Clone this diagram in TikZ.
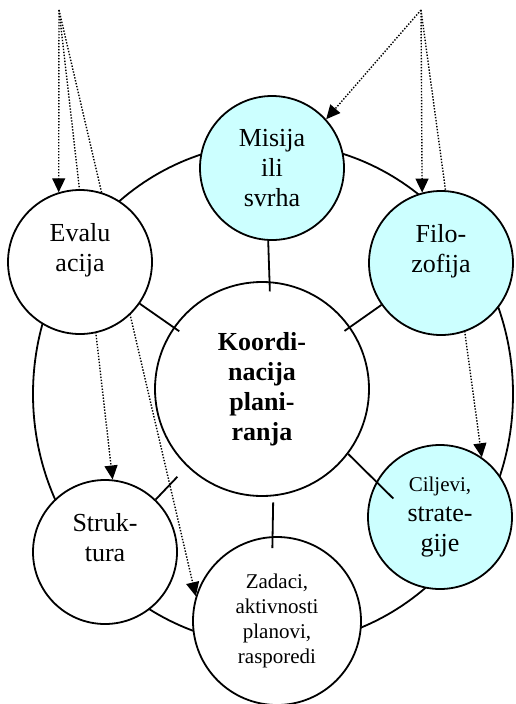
\documentclass[tikz,border=0pt]{standalone}
\usepackage{fontspec}
\setmainfont{Liberation Serif}
\usetikzlibrary{arrows.meta,backgrounds}
\definecolor{lightcyan}{HTML}{CCFFFF}

\begin{document}
\begin{tikzpicture}[
    x=1pt, y=-1pt,
    sat/.style={circle, draw=black, line width=1.8pt, fill=white,
      minimum size=144pt, inner sep=0pt, align=center,
      font=\fontsize{26}{30}\selectfont},
    goal/.style={sat, fill=lightcyan},
    core/.style={sat, minimum size=214pt, font=\fontsize{26}{30}\selectfont\bfseries},
    link/.style={line width=1.8pt},
    hint/.style={-{Triangle[length=14pt,width=13pt]}, line width=1.4pt,
      dash pattern=on 1.4pt off 1.6pt}
  ]
  \useasboundingbox (0,0) rectangle (516,704);

  \node[core] (koord) at (262,389) {Koordi-\\nacija\\plani-\\ranja};

  \node[goal] (misija) at (272,168) {Misija\\ili\\svrha};
  \node[goal] (filozofija) at (441,263) {Filo-\\zofija\\{}};
  \node[goal] (ciljevi) at (440,517)
    {{\fontsize{21}{25}\selectfont Ciljevi,}\\strate-\\gije};
  \node[sat] (evaluacija) at (80,262) {Evalu\\acija\\{}};
  \node[sat] (struktura) at (105,552) {Struk-\\tura\\{}};
  \node[sat, minimum size=168pt, font=\fontsize{21}{25}\selectfont] (zadaci) at (277,621)
    {Zadaci,\\aktivnosti\\planovi,\\rasporedi};

  \coordinate (srcL) at (59,10);
  \coordinate (srcR) at (421,10);

  \begin{scope}[on background layer]
    \draw[link] (273,394) ellipse [x radius=240, y radius=251];
    \draw[hint] (srcL) -- (evaluacija.107);
    \draw[hint] (srcL) -- (struktura.84);
    \draw[hint] (srcL) -- (zadaci.163);
    \draw[hint] (srcR) -- (misija.42);
    \draw[hint] (srcR) -- (filozofija.105);
    \draw[hint] (srcR) -- (ciljevi.55);
  \end{scope}

  % short ties to the centre
  \draw[link, shorten >=-10pt] (misija.-93) -- (koord.86);
  \draw[link, shorten >=-7pt] (evaluacija) -- (koord);
  \draw[link, shorten >=-7pt] (filozofija) -- (koord);
  \draw[link, shorten >=-24pt] (koord.-37) -- (ciljevi.151);
  \draw[link, shorten <=14pt] (koord.-134) -- (struktura.46);
  \draw[link, shorten <=6pt, shorten >=-12pt] (koord.-84) -- (zadaci.93);
\end{tikzpicture}
\end{document}
